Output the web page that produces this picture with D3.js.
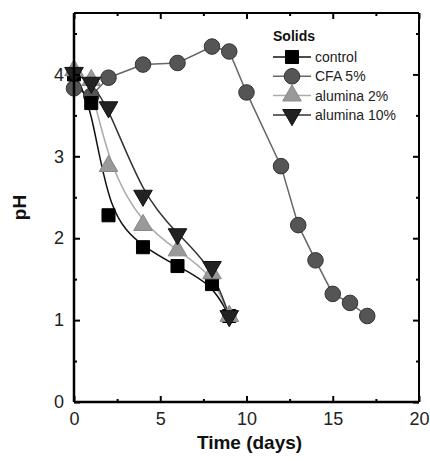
<!DOCTYPE html>
<html>
<head>
<meta charset="utf-8">
<script src="https://cdn.jsdelivr.net/npm/d3@7"></script>
<style>
  body { margin: 0; background: #fff; }
  text { font-family: Arial, "Liberation Sans", sans-serif; }
</style>
</head>
<body>
<script>
// Data
const days = [0, 1, 2, 4, 6, 8, 9];
const control = [4.0, 3.65, 2.28, 1.89, 1.66, 1.44, 1.05];
const alumina2 = [4.05, 3.93, 2.88, 2.16, 1.85, 1.57, 1.05];
const alumina10 = [4.02, 3.9, 3.6, 2.52, 2.05, 1.65, 1.05];
const cfaDays = [0, 1, 2, 4, 6, 8, 9, 10, 12, 13, 14, 15, 16, 17];
const cfa5 = [3.83, 3.74, 3.96, 4.12, 4.14, 4.34, 4.28, 3.78, 2.88, 2.16, 1.73, 1.32, 1.21, 1.05];
const xTicks = [0, 5, 10, 15, 20];
const yTicks = [0, 1, 2, 3, 4];

const W = 430, H = 461;
const margin = { top: 13, right: 11, bottom: 59, left: 74 };
const width = W - margin.left - margin.right;
const height = H - margin.top - margin.bottom;

const svg = d3.select("body").append("svg").attr("width", W).attr("height", H);
const g = svg.append("g").attr("transform", `translate(${margin.left},${margin.top})`);

const x = d3.scaleLinear().domain([0, 20]).range([0, width]);
const y = d3.scaleLinear().domain([0, 4.75]).range([height, 0]);

// series (smoothed curves for the fitted ones)
const series = [
  { name: "CFA 5%", xs: cfaDays, ys: cfa5, shape: d3.symbolCircle, size: 190, fill: "#555", stroke: "#333", line: "#666", curve: d3.curveLinear },
  { name: "control", xs: days, ys: control, shape: d3.symbolSquare, size: 170, fill: "#000", stroke: "#000", line: "#111", curve: d3.curveBasis },
  { name: "alumina 2%", xs: days, ys: alumina2, shape: d3.symbolTriangle, size: 150, fill: "#999", stroke: "#888", line: "#aaa", curve: d3.curveBasis },
  { name: "alumina 10%", xs: days, ys: alumina10, shape: d3.symbolTriangle, size: 150, fill: "#222", stroke: "#111", line: "#333", curve: d3.curveBasis, flip: true }
];

const line = d3.line().x(d => x(d[0])).y(d => y(d[1]));

series.forEach(s => {
  const pts = s.xs.map((d, i) => [d, s.ys[i]]);
  g.append("path")
    .datum(pts)
    .attr("fill", "none")
    .attr("stroke", s.line)
    .attr("stroke-width", 1.5)
    .attr("d", line.curve(s.curve));
});

series.forEach(s => {
  const pts = s.xs.map((d, i) => [d, s.ys[i]]);
  g.selectAll(null)
    .data(pts)
    .join("path")
    .attr("d", d3.symbol(s.shape, s.size))
    .attr("transform", d => `translate(${x(d[0])},${y(d[1])})${s.flip ? " rotate(180)" : ""}`)
    .attr("fill", s.fill)
    .attr("stroke", s.stroke)
    .attr("stroke-width", 1);
});

// axes: ticks pointing inward on all four sides
function styleAxis(sel) {
  sel.select(".domain").remove();
  sel.selectAll("line").attr("stroke", "#000").attr("stroke-width", 2);
  sel.selectAll("text").attr("font-size", 18).attr("fill", "#222");
}

g.append("g")
  .attr("transform", `translate(0,${height})`)
  .call(d3.axisBottom(x).tickValues(xTicks).tickSize(-6).tickPadding(10))
  .call(styleAxis);
g.append("g")
  .attr("transform", `translate(0,${height})`)
  .call(d3.axisBottom(x).tickValues([2.5, 7.5, 12.5, 17.5]).tickSize(-3).tickFormat(""))
  .call(styleAxis);
g.append("g")
  .call(d3.axisTop(x).tickValues(xTicks).tickSize(-6).tickFormat(""))
  .call(styleAxis);
g.append("g")
  .call(d3.axisTop(x).tickValues([2.5, 7.5, 12.5, 17.5]).tickSize(-3).tickFormat(""))
  .call(styleAxis);

g.append("g")
  .call(d3.axisLeft(y).tickValues(yTicks).tickSize(-6).tickPadding(10).tickFormat(d3.format("d")))
  .call(styleAxis);
g.append("g")
  .call(d3.axisLeft(y).tickValues([0.5, 1.5, 2.5, 3.5, 4.5]).tickSize(-3).tickFormat(""))
  .call(styleAxis);
g.append("g")
  .attr("transform", `translate(${width},0)`)
  .call(d3.axisRight(y).tickValues(yTicks).tickSize(-6).tickFormat(""))
  .call(styleAxis);
g.append("g")
  .attr("transform", `translate(${width},0)`)
  .call(d3.axisRight(y).tickValues([0.5, 1.5, 2.5, 3.5, 4.5]).tickSize(-3).tickFormat(""))
  .call(styleAxis);

// frame: left & bottom heavier
g.append("line").attr("x1", 0).attr("x2", 0).attr("y1", 0).attr("y2", height).attr("stroke", "#000").attr("stroke-width", 2.5);
g.append("line").attr("x1", 0).attr("x2", width).attr("y1", height).attr("y2", height).attr("stroke", "#000").attr("stroke-width", 2.5);
g.append("line").attr("x1", 0).attr("x2", width).attr("y1", 0).attr("y2", 0).attr("stroke", "#000").attr("stroke-width", 2);
g.append("line").attr("x1", width).attr("x2", width).attr("y1", 0).attr("y2", height).attr("stroke", "#000").attr("stroke-width", 2);

// axis titles
svg.append("text")
  .attr("x", margin.left + width / 2 + 3)
  .attr("y", 449)
  .attr("text-anchor", "middle")
  .attr("font-size", 19)
  .attr("font-weight", "bold")
  .attr("fill", "#111")
  .text("Time (days)");
svg.append("text")
  .attr("transform", `translate(26,${margin.top + height / 2}) rotate(-90)`)
  .attr("text-anchor", "middle")
  .attr("font-size", 19)
  .attr("font-weight", "bold")
  .attr("fill", "#111")
  .text("pH");

// legend
const leg = svg.append("g").attr("transform", "translate(273,0)");
leg.append("text").attr("x", 0).attr("y", 41).attr("font-size", 14).attr("font-weight", "bold").attr("fill", "#111").text("Solids");
const order = ["control", "CFA 5%", "alumina 2%", "alumina 10%"];
order.forEach((name, i) => {
  const s = series.find(d => d.name === name);
  const cy = 57 + i * 19.3;
  leg.append("line").attr("x1", 0).attr("x2", 38).attr("y1", cy).attr("y2", cy)
    .attr("stroke", s.line).attr("stroke-width", 1.5);
  leg.append("path")
    .attr("d", d3.symbol(s.shape, s.size)())
    .attr("transform", `translate(19,${cy})${s.flip ? " rotate(180)" : ""}`)
    .attr("fill", s.fill).attr("stroke", s.stroke);
  leg.append("text").attr("x", 42).attr("y", cy + 5).attr("font-size", 14).attr("fill", "#222").text(name);
});
</script>
</body>
</html>
